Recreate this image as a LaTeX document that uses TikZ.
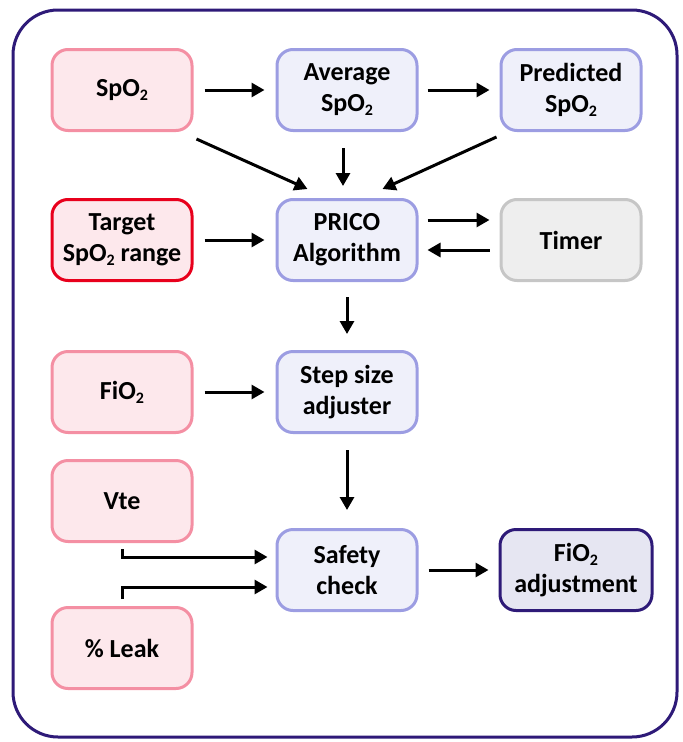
\documentclass[tikz,border=0pt]{standalone}
\usepackage{fontspec}
\setmainfont{Carlito}
\usetikzlibrary{arrows.meta,calc}
\definecolor{frame}{HTML}{2E1A78}
\definecolor{pinkfill}{HTML}{FDE8EC}
\definecolor{pinkdraw}{HTML}{F48FA3}
\definecolor{reddraw}{HTML}{E8001C}
\definecolor{bluefill}{HTML}{EFF0FA}
\definecolor{bluedraw}{HTML}{9C9DE2}
\definecolor{grayfill}{HTML}{EEEEEE}
\definecolor{graydraw}{HTML}{C6C6C6}
\definecolor{adjfill}{HTML}{E6E6F2}
\newcommand{\subtwo}{\raisebox{-0.3ex}{\fontsize{16}{16}\selectfont 2}}
\begin{document}
\begin{tikzpicture}[x=1pt,y=-1pt,
  box/.style={rounded corners=16pt,line width=3pt,minimum width=140pt,minimum height=81pt,
    align=center,font=\fontsize{26}{31}\selectfont\bfseries,inner sep=0pt},
  inbox/.style={box,fill=pinkfill,draw=pinkdraw},
  procbox/.style={box,fill=bluefill,draw=bluedraw},
  arr/.style={line width=3pt,-{Triangle[length=13pt,width=14pt]}}]
\useasboundingbox (0,0) rectangle (683,742);
\draw[frame,line width=3pt,rounded corners=45pt] (13,10) rectangle (677,737);
\node[inbox] (spo2) at (122,90) {SpO\subtwo};
\node[procbox] (avg) at (347,90) {Average\\SpO\subtwo};
\node[procbox] (pred) at (571,90) {Predicted\\SpO\subtwo};
\node[box,fill=pinkfill,draw=reddraw] (target) at (122,240) {Target\\SpO\subtwo{} range};
\node[procbox] (prico) at (347,240) {PRICO\\Algorithm};
\node[box,fill=grayfill,draw=graydraw] (timer) at (571,240) {Timer};
\node[inbox] (fio2) at (122,392) {FiO\subtwo};
\node[procbox] (step) at (347,392) {Step size\\adjuster};
\node[inbox] (vte) at (122,501) {Vte};
\node[procbox] (safety) at (347,570) {Safety\\check};
\node[box,fill=adjfill,draw=frame,minimum width=152pt] (adj) at (576,570) {FiO\subtwo\\adjustment};
\node[inbox] (leak) at (122,648) {\% Leak};
% arrows
\draw[arr] ($(spo2.east)+(11,0)$) -- ($(avg.west)+(-11,0)$);
\draw[arr] ($(avg.east)+(9,0)$) -- ($(pred.west)+(-10,0)$);
\draw[arr] ($(spo2.south east)+(3,7)$) -- ($(prico.north west)+(32,-9)$);
\draw[arr] ($(avg.south)+(-4,16)$) -- ($(prico.north)+(-4,-12)$);
\draw[arr] ($(pred.south west)+(-3,5)$) -- ($(prico.north east)+(-36,-9)$);
\draw[arr] ($(target.east)+(11,0)$) -- ($(prico.west)+(-11,0)$);
\draw[arr] ($(prico.east)+(9,-20)$) -- ($(timer.west)+(-10,-20)$);
\draw[arr] ($(timer.west)+(-10,10)$) -- ($(prico.east)+(9,10)$);
\draw[arr] ($(prico.south)+(0,15)$) -- ($(step.north)+(0,-16)$);
\draw[arr] ($(fio2.east)+(11,0)$) -- ($(step.west)+(-11,0)$);
\draw[arr] ($(step.south)+(0,16)$) -- ($(safety.north)+(0,-18)$);
\draw[arr] ($(vte.south)+(0,6)$) |- ($(safety.west)+(-8,-13)$);
\draw[arr] ($(leak.north)+(0,-7)$) |- ($(safety.west)+(-8,17)$);
\draw[arr] ($(safety.east)+(10,0)$) -- ($(adj.west)+(-10,0)$);
\end{tikzpicture}
\end{document}
